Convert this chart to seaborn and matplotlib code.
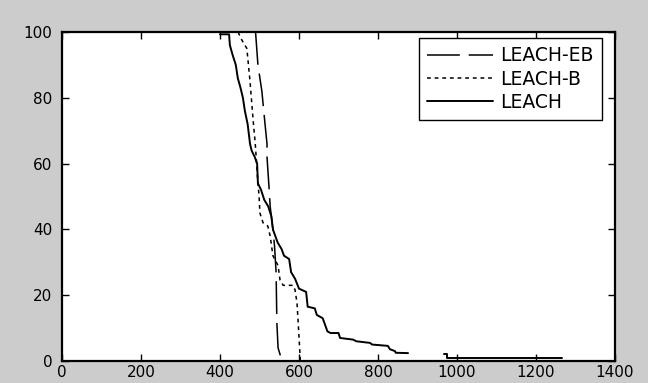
import pandas as pd
import seaborn as sns
import matplotlib.pyplot as plt

# Values (rounds vs. nodes alive)
leach_x = [400, 423, 425, 432, 440, 445, 452, 458, 463, 470, 476, 480, 488, 494, 496, 504, 512,
           522, 530, 534, 540, 546, 556, 562, 575, 580, 590, 600, 618, 622, 640, 645, 660, 666,
           672, 680, 700, 704, 737, 745, 780, 785, 825, 830, 843, 845, 876]
leach_y = [99.3, 99.3, 96, 93, 90, 86, 83, 80, 76, 72, 66, 64, 62, 60, 54, 52, 49,
           47, 44, 40, 38, 36, 34, 32, 31, 27, 25, 22, 21, 16.5, 16, 14, 13, 11,
           9, 8.5, 8.5, 7, 6.5, 6, 5.5, 5, 4.6, 3.6, 3, 2.5, 2.4]
# last part of LEACH, drawn apart in the original
leach_tail_x = [968, 975, 975, 1265]
leach_tail_y = [2, 2, 1, 1]

leachb_x = [446, 451, 458, 468, 476, 484, 489, 491, 496, 499, 501, 509, 521, 527, 534, 547,
            552, 560, 585, 590, 595, 598, 603, 603]
leachb_y = [100, 98.5, 97, 95, 85, 73, 66.5, 63, 54, 50, 45, 42, 41, 38, 32, 29,
            24.6, 23, 23, 21.6, 17.6, 11.5, 1, 0]

leacheb_x = [490, 496, 506, 514, 519, 519, 524, 527, 534, 538, 542, 544, 547, 557]
leacheb_y = [100, 90, 82, 72, 66, 62, 53, 47, 40, 35, 27, 11.5, 4, 0]

xticks = [0, 200, 400, 600, 800, 1000, 1200, 1400]
yticks = [0, 20, 40, 60, 80, 100]

sns.set_style('white')
plt.rcParams['font.family'] = ['DejaVu Sans']

fig = plt.figure(figsize=(6.48, 3.83), dpi=100, facecolor='#cccccc')
ax = fig.add_axes([62 / 648, 22 / 383, 553 / 648, 329 / 383])
ax.set_facecolor('white')

eb = pd.DataFrame({'x': leacheb_x, 'y': leacheb_y})
b = pd.DataFrame({'x': leachb_x, 'y': leachb_y})
l = pd.DataFrame({'x': leach_x, 'y': leach_y})
lt = pd.DataFrame({'x': leach_tail_x, 'y': leach_tail_y})

sns.lineplot(data=eb, x='x', y='y', ax=ax, color='black', lw=1.1, sort=False,
             estimator=None, label='LEACH-EB').lines[-1].set_dashes((21.5, 5.8))
sns.lineplot(data=b, x='x', y='y', ax=ax, color='black', lw=1.1, sort=False,
             estimator=None, label='LEACH-B').lines[-1].set_dashes((2.5, 2.5))
sns.lineplot(data=l, x='x', y='y', ax=ax, color='black', lw=1.4, sort=False,
             estimator=None, label='LEACH')
sns.lineplot(data=lt, x='x', y='y', ax=ax, color='black', lw=1.4, sort=False,
             estimator=None, legend=False)

ax.set_xlim(0, 1400)
ax.set_ylim(0, 100)
ax.set_xticks(xticks)
ax.set_yticks(yticks)
ax.set_xlabel('')
ax.set_ylabel('')
ax.tick_params(direction='in', length=5, width=1, colors='black', labelsize=11,
               top=True, right=True, bottom=True, left=True)
ax.tick_params(axis='x', pad=3)
ax.tick_params(axis='y', pad=7)
for sp in ax.spines.values():
    sp.set_visible(True)
    sp.set_color('black')
    sp.set_linewidth(1.6)

leg = ax.legend(loc='upper right', bbox_to_anchor=(0.9765, 0.9818), borderaxespad=0,
                fontsize=13.5, handlelength=3.5, handletextpad=0.4, borderpad=0.45,
                labelspacing=0.22, fancybox=False, framealpha=1, edgecolor='black',
                labelcolor='black')
leg.get_frame().set_linewidth(1.0)

fig.savefig('out.png', dpi=100, facecolor=fig.get_facecolor())
